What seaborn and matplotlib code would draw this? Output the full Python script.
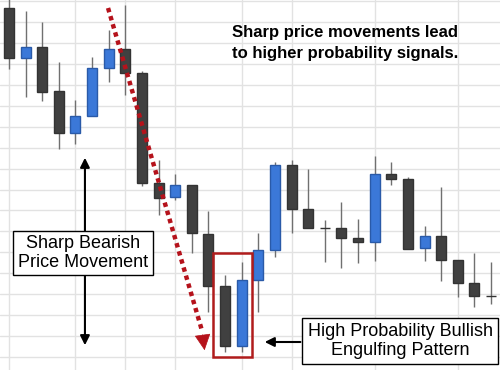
import numpy as np
import pandas as pd
import matplotlib
matplotlib.use("Agg")
import matplotlib.pyplot as plt
from matplotlib.ticker import MultipleLocator, FixedLocator
import seaborn as sns

# candle data (price units)
opens = [362, 312, 323, 279, 237, 254, 302, 321, 297, 187, 173, 185, 136, 84, 24,
         90, 120, 205, 161, 142, 142, 132, 128, 196, 191, 122, 134, 110, 87, 74]
highs = [375, 359, 348, 308, 270, 313, 340, 365, 299, 210, 196, 185, 159, 95, 108,
         137, 208, 210, 201, 150, 168, 151, 214, 208, 193, 144, 183, 110, 117, 108]
lows = [301, 273, 269, 221, 226, 254, 288, 275, 184, 155, 170, 117, 58, 18, 18,
        58, 113, 137, 142, 108, 102, 107, 109, 185, 121, 109, 89, 73, 63, 66]
closes = [312, 323, 278, 237, 254, 302, 321, 297, 187, 172, 185, 137, 84, 24, 90,
          120, 205, 161, 142, 142, 132, 128, 196, 191, 121, 134, 110, 87, 74, 74]
vgrid_idx = [0, 4, 7, 10, 14, 17, 22, 27]

df = pd.DataFrame({"open": opens, "high": highs, "low": lows, "close": closes})
df["x"] = np.arange(len(df))
df["bull"] = df["close"] > df["open"]

sns.set_style("white")
plt.rcParams["font.family"] = ["Liberation Sans", "DejaVu Sans"]
plt.rcParams["text.color"] = "black"

fig = plt.figure(figsize=(5, 3.7), dpi=100)
ax = fig.add_axes([0, 0, 1, 1])

dark = "#404040"
blue = "#3b78d8"

# wicks
ax.vlines(df["x"], df["low"], df["high"], color="#707070", lw=1, zorder=2)

# bodies
colors = [blue if b else dark for b in df["bull"]]
edges = ["#2a5aa8" if b else "#333333" for b in df["bull"]]
ax.bar(df["x"], df["close"] - df["open"], bottom=df["open"], width=0.6,
       color=colors, edgecolor=edges, linewidth=1, zorder=3)

ax.set_xlim(-0.54, 29.54)
ax.set_ylim(0, 370)
ax.yaxis.set_major_locator(MultipleLocator(20.9, offset=13.3))
ax.xaxis.set_major_locator(FixedLocator(vgrid_idx))
ax.grid(True, color="#e2e2e2", lw=1)
ax.set_axisbelow(True)
ax.tick_params(left=False, bottom=False, labelleft=False, labelbottom=False)
for s in ax.spines.values():
    s.set_visible(False)

# red dotted trend arrow
red = "#b5121b"
ax.plot([5.96, 11.6], [362, 40], ls=(0, (1, 0.9)), lw=3.2, color=red, zorder=5)
ax.annotate("", xy=(11.79, 17), xytext=(11.62, 38),
            arrowprops=dict(arrowstyle="-|>", color=red, lw=0.5,
                            mutation_scale=26), zorder=5)

# engulfing box
ax.add_patch(plt.Rectangle((12.27, 13), 2.35, 104, fill=False,
                           edgecolor="#b01c1c", lw=1.8, zorder=6))

# bearish movement arrow + label
ax.annotate("", xy=(4.57, 215), xytext=(4.57, 22),
            arrowprops=dict(arrowstyle="<|-|>", color="black", lw=1.5,
                            mutation_scale=14), zorder=6)
fig.text(0.166, 0.316, "Sharp Bearish\nPrice Movement", ha="center", va="center",
         fontsize=13, linespacing=1.1, zorder=7,
         bbox=dict(boxstyle="square,pad=0.25", fc="white", ec="black", lw=1))

# engulfing label + arrow
ax.annotate("", xy=(15.22, 28), xytext=(17.7, 28),
            arrowprops=dict(arrowstyle="-|>", color="black", lw=1.5,
                            mutation_scale=14), zorder=6)
fig.text(0.8, 0.078, "High Probability Bullish\nEngulfing Pattern", ha="center",
         va="center", fontsize=13, linespacing=1.1, zorder=7,
         bbox=dict(boxstyle="square,pad=0.28", fc="white", ec="black", lw=1))

fig.text(0.69, 0.884, "Sharp price movements lead\nto higher probability signals.",
         ha="center", va="center", fontsize=12, fontweight="bold", linespacing=1.45)

fig.savefig("out.png", dpi=100)
